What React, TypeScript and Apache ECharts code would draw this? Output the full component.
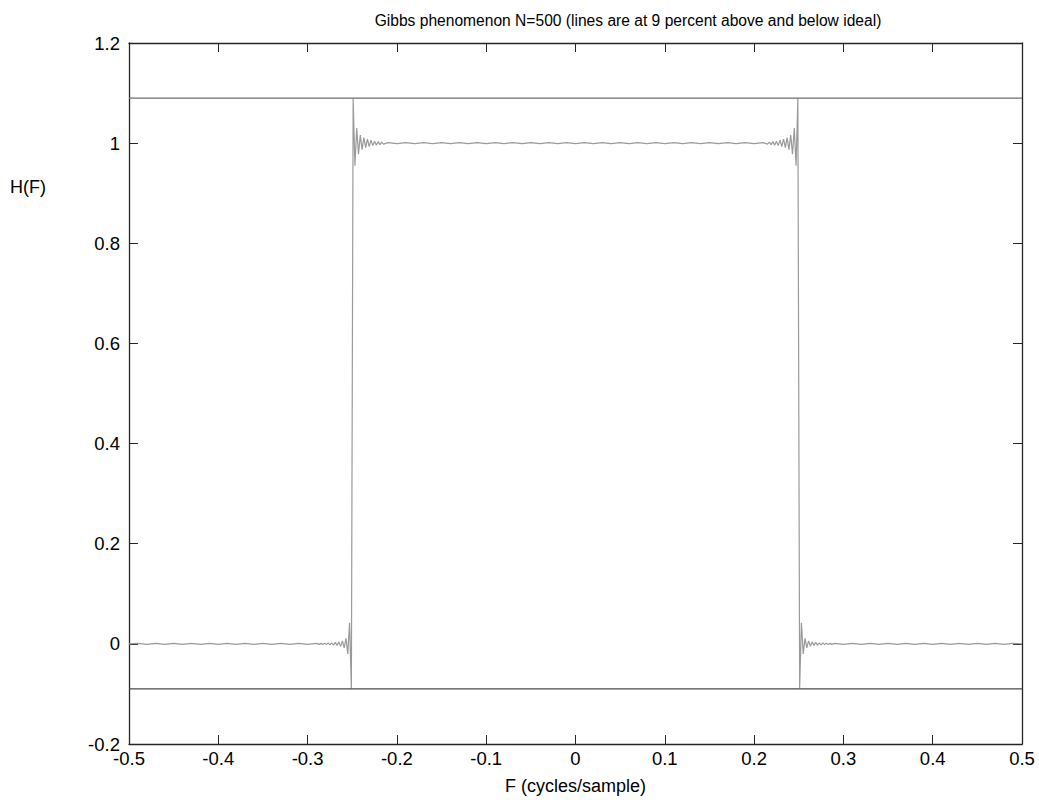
import React, { useEffect, useRef } from "react";
import * as echarts from "echarts";

// ---- data ----
const titleText = "Gibbs phenomenon N=500 (lines are at 9 percent above and below ideal)";
const xLabel = "F (cycles/sample)";
const yLabel = "H(F)";

const xTicks = { min: -0.5, max: 0.5, interval: 0.1 };
const yTicks = { min: -0.2, max: 1.2, interval: 0.2 };

// reference lines at 9 percent above and below the ideal response
const upperLine: [number, number][] = [[-0.5, 1.09], [0.5, 1.09]];
const lowerLine: [number, number][] = [[-0.5, -0.09], [0.5, -0.09]];

const stopbandLeft: [number, number][] = [
  [-0.5, 0.0], [-0.49, 0.001], [-0.48, -0.001], [-0.47, 0.001], [-0.46, -0.001], [-0.45, 0.001],
  [-0.44, -0.001], [-0.43, 0.001], [-0.42, -0.001], [-0.41, 0.001], [-0.4, -0.001], [-0.39, 0.001],
  [-0.38, -0.001], [-0.37, 0.001], [-0.36, -0.001], [-0.35, 0.001], [-0.34, -0.001], [-0.33, 0.001],
  [-0.32, -0.001], [-0.31, 0.001], [-0.3, -0.001], [-0.29, 0.001],
];

const edgeLeft: [number, number][] = [
  [-0.287, -0.001], [-0.285, 0.001], [-0.283, -0.0015], [-0.281, 0.0015], [-0.279, -0.0015],
  [-0.277, 0.002], [-0.275, -0.002], [-0.273, 0.002], [-0.271, -0.0025], [-0.269, 0.003],
  [-0.267, -0.003], [-0.265, 0.004], [-0.263, -0.005], [-0.261, 0.006], [-0.259, -0.008],
  [-0.257, 0.011], [-0.255, -0.02], [-0.253, 0.042], [-0.251, -0.089], [-0.249, 1.089],
  [-0.247, 0.955], [-0.245, 1.03], [-0.243, 0.978], [-0.241, 1.016], [-0.239, 0.987],
  [-0.237, 1.011], [-0.235, 0.991], [-0.233, 1.008], [-0.231, 0.993], [-0.229, 1.006],
  [-0.227, 0.995], [-0.225, 1.004], [-0.223, 0.996], [-0.221, 1.003], [-0.219, 0.997],
  [-0.217, 1.002], [-0.215, 0.998],
];

const passband: [number, number][] = [
  [-0.21, 1.001], [-0.2, 0.999], [-0.19, 1.001], [-0.18, 0.999], [-0.17, 1.001], [-0.16, 0.999],
  [-0.15, 1.001], [-0.14, 0.999], [-0.13, 1.001], [-0.12, 0.999], [-0.11, 1.001], [-0.1, 0.999],
  [-0.09, 1.001], [-0.08, 0.999], [-0.07, 1.001], [-0.06, 0.999], [-0.05, 1.001], [-0.04, 0.999],
  [-0.03, 1.001], [-0.02, 0.999], [-0.01, 1.001], [0.0, 0.999], [0.01, 1.001], [0.02, 0.999],
  [0.03, 1.001], [0.04, 0.999], [0.05, 1.001], [0.06, 0.999], [0.07, 1.001], [0.08, 0.999],
  [0.09, 1.001], [0.1, 0.999], [0.11, 1.001], [0.12, 0.999], [0.13, 1.001], [0.14, 0.999],
  [0.15, 1.001], [0.16, 0.999], [0.17, 1.001], [0.18, 0.999], [0.19, 1.001], [0.2, 0.999],
  [0.21, 1.001],
];

const edgeRight: [number, number][] = [
  [0.215, 0.998], [0.217, 1.002], [0.219, 0.997], [0.221, 1.003], [0.223, 0.996],
  [0.225, 1.004], [0.227, 0.995], [0.229, 1.006], [0.231, 0.993], [0.233, 1.008],
  [0.235, 0.991], [0.237, 1.011], [0.239, 0.987], [0.241, 1.016], [0.243, 0.978],
  [0.245, 1.03], [0.247, 0.955], [0.249, 1.089], [0.251, -0.089], [0.253, 0.042],
  [0.255, -0.02], [0.257, 0.011], [0.259, -0.008], [0.261, 0.006], [0.263, -0.005],
  [0.265, 0.004], [0.267, -0.003], [0.269, 0.003], [0.271, -0.0025], [0.273, 0.002],
  [0.275, -0.002], [0.277, 0.002], [0.279, -0.0015], [0.281, 0.0015], [0.283, -0.0015],
  [0.285, 0.001], [0.287, -0.001],
];

const stopbandRight: [number, number][] = [
  [0.29, 0.001], [0.3, -0.001], [0.31, 0.001], [0.32, -0.001], [0.33, 0.001], [0.34, -0.001],
  [0.35, 0.001], [0.36, -0.001], [0.37, 0.001], [0.38, -0.001], [0.39, 0.001], [0.4, -0.001],
  [0.41, 0.001], [0.42, -0.001], [0.43, 0.001], [0.44, -0.001], [0.45, 0.001], [0.46, -0.001],
  [0.47, 0.001], [0.48, -0.001], [0.49, 0.001], [0.5, 0.0],
];

const FONT = "'Liberation Sans', Arial, Helvetica, sans-serif";
const AXIS_COLOR = "#262626";
const TICK_FS = 18.5;
const NAME_FS = 18;
const TITLE_FS = 15.6;

export default function App() {
  const ref = useRef<HTMLDivElement>(null);

  useEffect(() => {
    document.body.style.margin = "0";
    if (!ref.current) return;
    const chart = echarts.init(ref.current, undefined, { renderer: "svg" });

    const curve = [...stopbandLeft, ...edgeLeft, ...passband, ...edgeRight, ...stopbandRight];

    const axisCommon = {
      type: "value" as const,
      axisLine: { show: true, onZero: false, lineStyle: { color: AXIS_COLOR, width: 1.3 } },
      axisTick: { show: true, inside: true, length: 9, lineStyle: { color: AXIS_COLOR, width: 1 } },
      splitLine: { show: false },
    };

    chart.setOption({
      animation: false,
      backgroundColor: "#ffffff",
      grid: { left: 129, right: 17, top: 43, bottom: 52, containLabel: false },
      xAxis: [
        {
          ...axisCommon,
          position: "bottom",
          min: xTicks.min,
          max: xTicks.max,
          interval: xTicks.interval,
          axisLabel: { color: "#000", fontSize: TICK_FS, fontFamily: FONT, margin: 5 },
          name: xLabel,
          nameLocation: "middle",
          nameGap: 33,
          nameTextStyle: { color: "#000", fontSize: NAME_FS, fontFamily: FONT },
        },
        {
          ...axisCommon,
          position: "top",
          min: xTicks.min,
          max: xTicks.max,
          interval: xTicks.interval,
          axisLabel: { show: false },
        },
      ],
      yAxis: [
        {
          ...axisCommon,
          position: "left",
          min: yTicks.min,
          max: yTicks.max,
          interval: yTicks.interval,
          axisLabel: { color: "#000", fontSize: TICK_FS, fontFamily: FONT, margin: 9 },
        },
        {
          ...axisCommon,
          position: "right",
          min: yTicks.min,
          max: yTicks.max,
          interval: yTicks.interval,
          axisLabel: { show: false },
        },
      ],
      graphic: [
        {
          type: "text",
          x: 628,
          y: 20,
          style: {
            text: titleText,
            fill: "#000",
            font: `${TITLE_FS}px ${FONT}`,
            textAlign: "center",
            textVerticalAlign: "middle",
          },
        },
        {
          type: "text",
          x: 28,
          y: 187,
          style: {
            text: yLabel,
            fill: "#000",
            font: `${NAME_FS}px ${FONT}`,
            textAlign: "center",
            textVerticalAlign: "middle",
          },
        },
      ],
      series: [
        {
          type: "line",
          data: curve,
          symbol: "none",
          lineStyle: { color: "#9a9a9a", width: 1.2 },
          z: 2,
        },
        {
          type: "line",
          data: upperLine,
          symbol: "none",
          lineStyle: { color: "#6e6e6e", width: 1.2 },
          z: 3,
        },
        {
          type: "line",
          data: lowerLine,
          symbol: "none",
          lineStyle: { color: "#4a4a4a", width: 1.2 },
          z: 3,
        },
      ],
    });

    return () => chart.dispose();
  }, []);

  return <div ref={ref} style={{ width: 1039, height: 800 }} />;
}
